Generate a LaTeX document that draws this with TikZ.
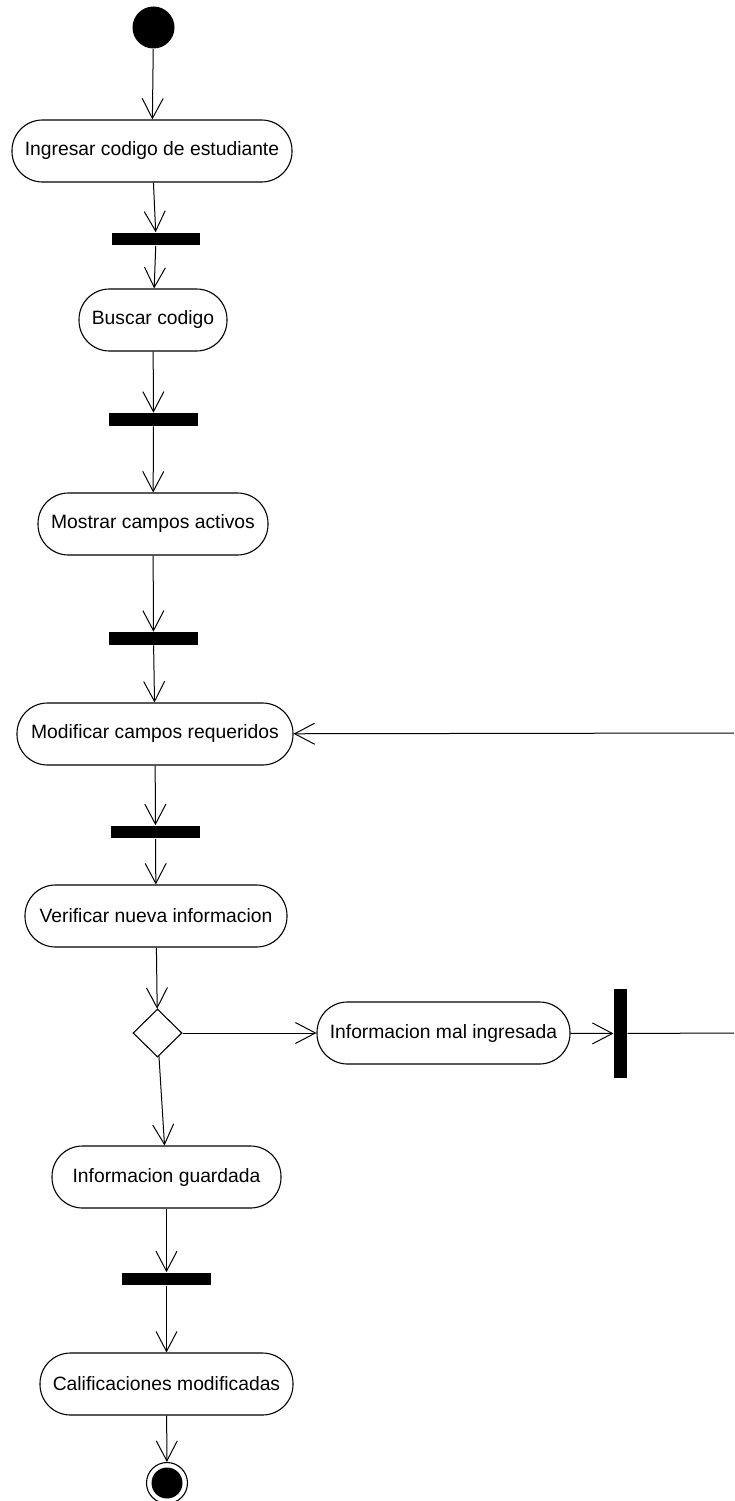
\documentclass[tikz,border=0pt]{standalone}
\usepackage{fontspec}
\setmainfont{Liberation Sans}
\usetikzlibrary{arrows.meta,shapes.geometric}
\begin{document}
\begin{tikzpicture}[x=1pt,y=-1pt,
  every node/.style={inner sep=0pt, line width=1.1pt},
  action/.style={draw, rectangle, rounded corners=30.5pt, minimum height=62pt,
    font=\fontsize{19.3}{23}\selectfont},
  syncbar/.style={fill=black, rectangle, minimum width=89pt, minimum height=12.5pt},
  vsyncbar/.style={fill=black, rectangle, minimum width=13pt, minimum height=89pt},
  choice/.style={draw, diamond, minimum width=49pt, minimum height=48pt, aspect=1},
  flow/.style={line width=1pt, -{Straight Barb[length=20pt,width=21pt]}},
  plain/.style={line width=1pt}]
\useasboundingbox (0,0) rectangle (734,1501);

% initial state
\node[circle, fill=black, minimum size=42pt] (start) at (153.5,27.5) {};

% activities and synchronisation bars
\node[action, minimum width=280pt] (ingresar) at (152,151) {Ingresar codigo de estudiante};
\node[syncbar, minimum width=88pt] (b1) at (156,239) {};
\node[action, minimum width=148pt] (buscar) at (153,320) {Buscar codigo};
\node[syncbar] (b2) at (153.5,419.5) {};
\node[action, minimum width=230pt] (mostrar) at (153,524) {Mostrar campos activos};
\node[syncbar] (b3) at (153.5,638.5) {};
\node[action, minimum width=276pt] (modificar) at (155,734) {Modificar campos requeridos};
\node[syncbar] (b4) at (155.5,832) {};
\node[action, minimum width=262pt] (verificar) at (156,916) {Verificar nueva informacion};
\node[choice] (dec) at (157.5,1033) {};
\node[action, minimum width=253pt] (mal) at (443.5,1033) {Informacion mal ingresada};
\node[vsyncbar] (vb) at (620.5,1033.5) {};
\node[action, minimum width=229pt] (guardada) at (166.5,1177) {Informacion guardada};
\node[syncbar] (b5) at (166.5,1279) {};
\node[action, minimum width=253pt] (calif) at (166.5,1384) {Calificaciones modificadas};

% final state
\node[circle, draw, fill=white, minimum size=41pt] (final) at (167,1483) {};
\fill (final) circle (15.5pt);

% loop back to the modification step
\coordinate (loopout) at (734,1033);
\coordinate (loopin) at (734,733);

% transitions
\draw[flow] (start) -- (ingresar);
\draw[flow] (ingresar) -- (b1);
\draw[flow] (b1) -- (buscar);
\draw[flow] (buscar) -- (b2);
\draw[flow] (b2) -- (mostrar);
\draw[flow] (mostrar) -- (b3);
\draw[flow] (b3) -- (modificar);
\draw[flow] (modificar) -- (b4);
\draw[flow] (b4) -- (verificar);
\draw[flow] (verificar) -- (dec);
\draw[flow] (dec) -- (mal);
\draw[flow] (mal) -- (vb);
\draw[plain] (vb) -- (loopout);
\draw[flow] (loopin) -- (modificar);
\draw[flow] (dec) -- (guardada);
\draw[flow] (guardada) -- (b5);
\draw[flow] (b5) -- (calif);
\draw[flow] (calif) -- (final);
\end{tikzpicture}
\end{document}
